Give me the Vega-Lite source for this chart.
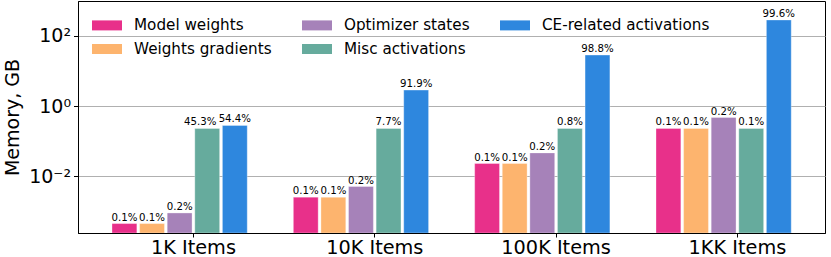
{
  "$schema": "https://vega.github.io/schema/vega-lite/v6.json",
  "width": 747,
  "height": 232,
  "autosize": {"type": "none"},
  "padding": {"left": 78, "top": 1, "right": 6, "bottom": 24},
  "config": {
    "font": "DejaVu Sans",
    "view": {"stroke": "#000000", "strokeWidth": 1},
    "axis": {"domainColor": "#000000", "tickColor": "#000000", "labelColor": "#000000", "titleColor": "#000000"}
  },
  "data": {
    "values": [
      {"group": "1K Items", "series": "Model weights", "value": 0.00046, "pct": "0.1%"},
      {"group": "1K Items", "series": "Weights gradients", "value": 0.00046, "pct": "0.1%"},
      {"group": "1K Items", "series": "Optimizer states", "value": 0.00092, "pct": "0.2%"},
      {"group": "1K Items", "series": "Misc activations", "value": 0.232, "pct": "45.3%"},
      {"group": "1K Items", "series": "CE-related activations", "value": 0.282, "pct": "54.4%"},
      {"group": "10K Items", "series": "Model weights", "value": 0.00258, "pct": "0.1%"},
      {"group": "10K Items", "series": "Weights gradients", "value": 0.00258, "pct": "0.1%"},
      {"group": "10K Items", "series": "Optimizer states", "value": 0.00519, "pct": "0.2%"},
      {"group": "10K Items", "series": "Misc activations", "value": 0.232, "pct": "7.7%"},
      {"group": "10K Items", "series": "CE-related activations", "value": 2.85, "pct": "91.9%"},
      {"group": "100K Items", "series": "Model weights", "value": 0.0234, "pct": "0.1%"},
      {"group": "100K Items", "series": "Weights gradients", "value": 0.0234, "pct": "0.1%"},
      {"group": "100K Items", "series": "Optimizer states", "value": 0.0469, "pct": "0.2%"},
      {"group": "100K Items", "series": "Misc activations", "value": 0.232, "pct": "0.8%"},
      {"group": "100K Items", "series": "CE-related activations", "value": 28.2, "pct": "98.8%"},
      {"group": "1KK Items", "series": "Model weights", "value": 0.232, "pct": "0.1%"},
      {"group": "1KK Items", "series": "Weights gradients", "value": 0.232, "pct": "0.1%"},
      {"group": "1KK Items", "series": "Optimizer states", "value": 0.474, "pct": "0.2%"},
      {"group": "1KK Items", "series": "Misc activations", "value": 0.232, "pct": "0.1%"},
      {"group": "1KK Items", "series": "CE-related activations", "value": 280, "pct": "99.6%"}
    ]
  },
  "encoding": {
    "x": {
      "field": "group", "type": "nominal",
      "scale": {"domain": ["1K Items", "10K Items", "100K Items", "1KK Items"], "paddingInner": 0.0868, "paddingOuter": 0.1032, "align": 0.872, "round": false},
      "axis": {"title": null, "labelAngle": 0, "labelFontSize": 19.3, "labelPadding": 1, "tickSize": 4, "grid": false}
    },
    "xOffset": {
      "field": "series", "type": "nominal",
      "scale": {"domain": ["Model weights", "Weights gradients", "Optimizer states", "Misc activations", "CE-related activations", "_pad"], "paddingInner": 0.1, "paddingOuter": 0.05, "round": false}
    },
    "y": {
      "field": "value", "type": "quantitative",
      "scale": {"type": "log", "domain": [0.000248, 970], "nice": false},
      "axis": {
        "title": "Memory, GB", "titleFontSize": 19, "titleFontWeight": "normal", "titlePadding": 6,
        "values": [0.01, 1, 100],
        "labelExpr": "datum.value == 100 ? '10²' : datum.value == 1 ? '10⁰' : '10⁻²'",
        "labelFontSize": 19, "labelPadding": 3, "tickSize": 4.5,
        "grid": true, "gridColor": "#b0b0b0", "gridWidth": 1
      }
    }
  },
  "layer": [
    {
      "mark": {"type": "bar", "clip": true, "stroke": "#ffffff", "strokeOpacity": 0.4, "strokeWidth": 0.8},
      "encoding": {
        "y2": {"datum": 0.000248},
        "color": {
          "field": "series", "type": "nominal",
          "scale": {
            "domain": ["Model weights", "Weights gradients", "Optimizer states", "Misc activations", "CE-related activations"],
            "range": ["#e8308a", "#fdb46e", "#a682b9", "#66ab9d", "#2e87de"]
          },
          "legend": {
            "title": null, "orient": "none", "legendX": 14, "legendY": 9,
            "columns": 3, "columnPadding": 30, "rowPadding": -9,
            "symbolType": "M-1,-0.333H1V0.333H-1Z", "symbolSize": 900, "symbolStrokeWidth": 0, "symbolOpacity": 1,
            "labelFontSize": 15.2, "labelOffset": 12, "labelColor": "#000000", "labelLimit": 400, "padding": 0
          }
        }
      }
    },
    {
      "transform": [{"filter": "datum.pct != '45.3%'"}],
      "mark": {"type": "text", "baseline": "bottom", "dy": -1, "fontSize": 10.2, "color": "#000000"},
      "encoding": {"text": {"field": "pct"}}
    },
    {
      "transform": [{"filter": "datum.pct == '45.3%'"}],
      "mark": {"type": "text", "baseline": "bottom", "dy": -1, "dx": -7, "fontSize": 10.2, "color": "#000000"},
      "encoding": {"text": {"field": "pct"}}
    }
  ]
}
